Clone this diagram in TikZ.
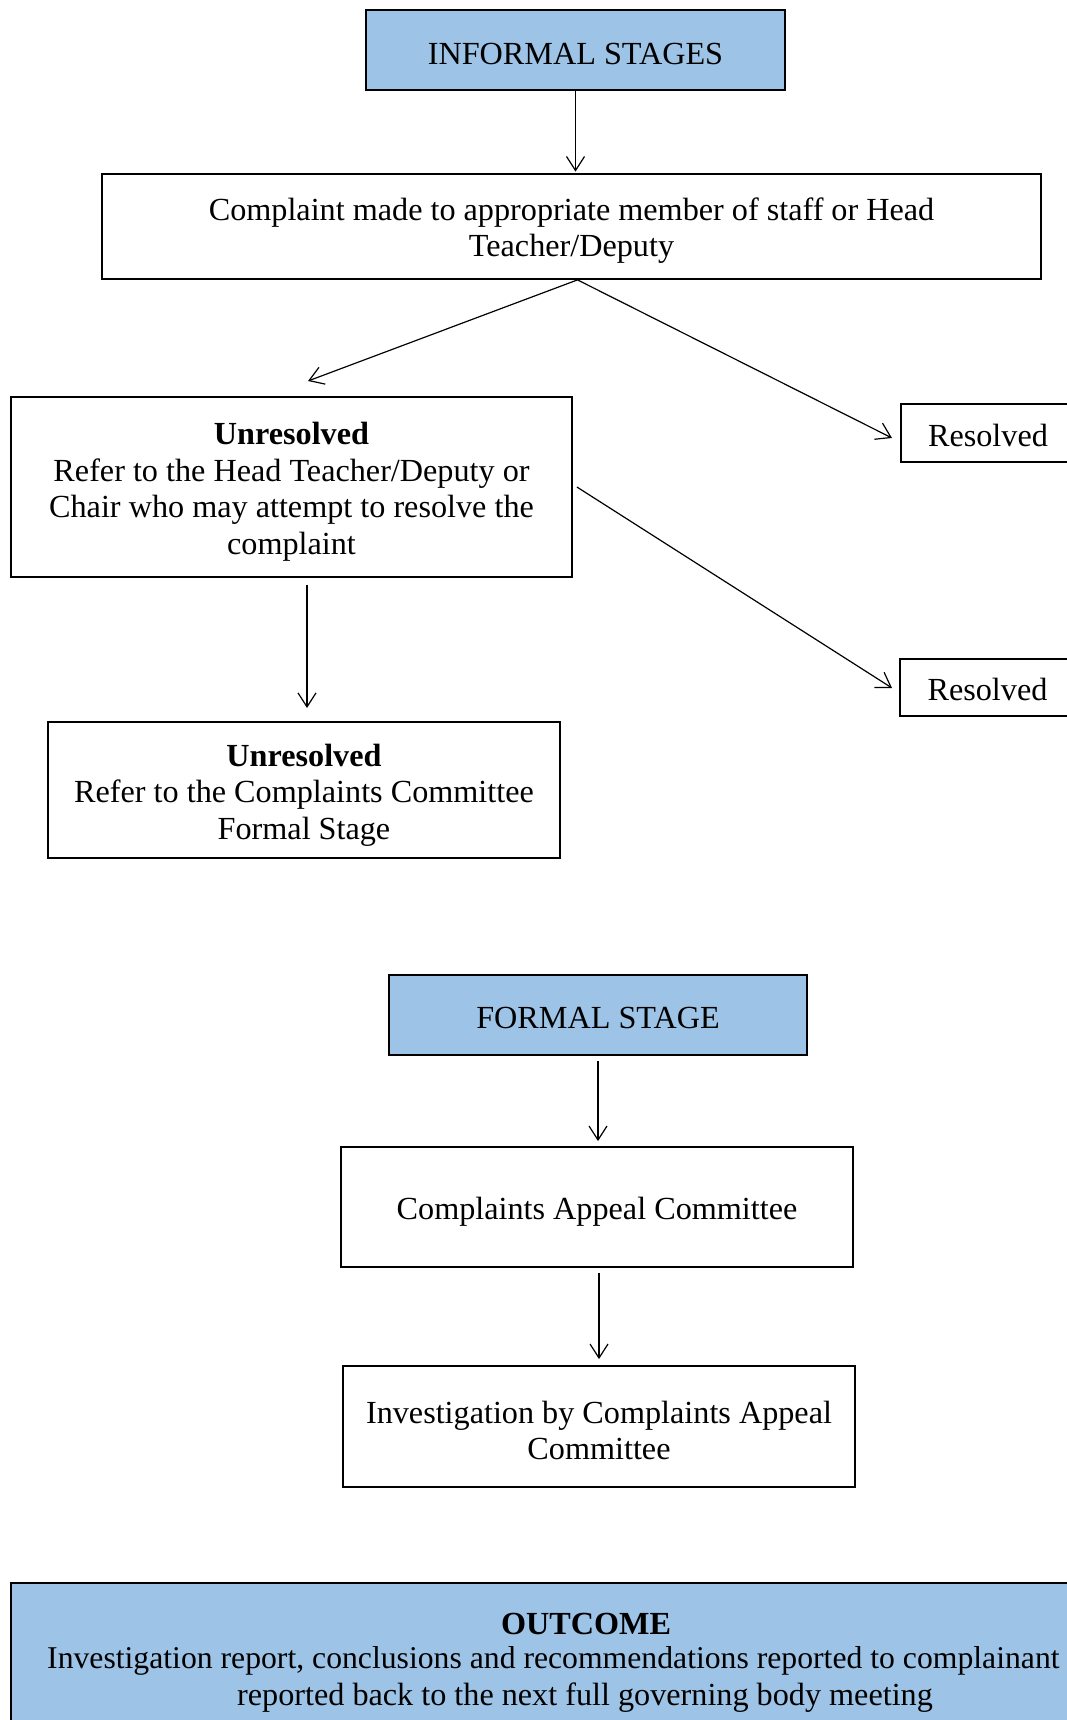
\documentclass[tikz,border=0pt]{standalone}
\usepackage{fontspec}
\setmainfont{Liberation Serif}
\usetikzlibrary{arrows.meta}
\definecolor{stageblue}{HTML}{9DC3E6}
\begin{document}
\begin{tikzpicture}[x=1pt,y=-1pt,
  box/.style={draw,line width=1.8pt,inner sep=0pt},
  stagebox/.style={box,fill=stageblue},
  txt/.style={inner sep=0pt,align=center,font=\fontsize{32.2}{36.5}\selectfont},
  conn/.style={line width=1.2pt,-{Straight Barb[length=14pt,width=18pt,line width=1.2pt]}}]
\useasboundingbox (0,0) rectangle (1067,1720);
\clip (0,0) rectangle (1067,1720);

\node[stagebox,minimum width=419pt,minimum height=80pt] (inf) at (575.5,50) {};
\node[box,minimum width=939pt,minimum height=105pt] (comp) at (571.5,226.5) {};
\node[box,minimum width=174pt,minimum height=58pt] (res1) at (988,433) {};
\node[box,minimum width=561pt,minimum height=180pt] (un1) at (291.5,487) {};
\node[box,minimum width=175pt,minimum height=57pt] (res2) at (987.5,687.5) {};
\node[box,minimum width=512pt,minimum height=136pt] (un2) at (304,790) {};
\node[stagebox,minimum width=418pt,minimum height=80pt] (fs) at (598,1015) {};
\node[box,minimum width=512pt,minimum height=120pt] (cac) at (597,1207) {};
\node[box,minimum width=512pt,minimum height=121pt] (inv) at (599,1426.5) {};
\node[stagebox,minimum width=1150pt,minimum height=180pt] (out) at (586,1673) {};

\node[txt] (inf-t) at ([yshift=-4pt]inf.center) {INFORMAL STAGES};
\node[txt] (comp-t) at ([yshift=-4pt]comp.center) {Complaint made to appropriate member of staff or Head\\Teacher/Deputy};
\node[txt] (res1-t) at ([yshift=-2pt]res1.center) {Resolved};
\node[txt] (un1-t) at ([yshift=-5pt]un1.center) {\textbf{Unresolved}\\Refer to the Head Teacher/Deputy or\\Chair who may attempt to resolve the\\complaint};
\node[txt] (res2-t) at ([yshift=-2pt]res2.center) {Resolved};
\node[txt] (un2-t) at ([yshift=-5pt]un2.center) {\textbf{Unresolved}\\Refer to the Complaints Committee\\Formal Stage};
\node[txt] (fs-t) at ([yshift=-3pt]fs.center) {FORMAL STAGE};
\node[txt] (cac-t) at ([yshift=-5pt]cac.center) {Complaints Appeal Committee};
\node[txt] (inv-t) at ([yshift=-4pt]inv.center) {Investigation by Complaints Appeal\\Committee};

\node[txt,font=\fontsize{32.2}{36.5}\selectfont\bfseries] (outt) at (586,1624) {OUTCOME};
\node[txt,anchor=west,font=\fontsize{31.7}{36.5}\selectfont] (out1) at (47,1661) {Investigation report, conclusions and recommendations reported to complainant};
\node[txt] (out2) at (585,1698) {reported back to the next full governing body meeting};

\coordinate (t1) at (308,381);
\coordinate (t2) at (892,438);
\coordinate (t3) at (892,688);
\coordinate (t4) at (307,708);

\draw[conn,shorten >=1.5pt] (inf.south) -- (inf.south |- comp.north);
\draw[conn] ([xshift=6pt]comp.south) -- (t1);
\draw[conn] ([xshift=6pt]comp.south) -- (t2);
\draw[conn] ([xshift=4pt]un1.east) -- (t3);
\draw[conn] ([xshift=15.5pt,yshift=-7pt]un1.south) -- (t4);
\draw[conn,shorten <=5pt,shorten >=5pt] (fs.south) -- (fs.south |- cac.north);
\draw[conn,shorten <=5pt,shorten >=6pt] ([xshift=2pt]cac.south) -- ([xshift=2pt]cac.south |- inv.north);
\end{tikzpicture}
\end{document}
